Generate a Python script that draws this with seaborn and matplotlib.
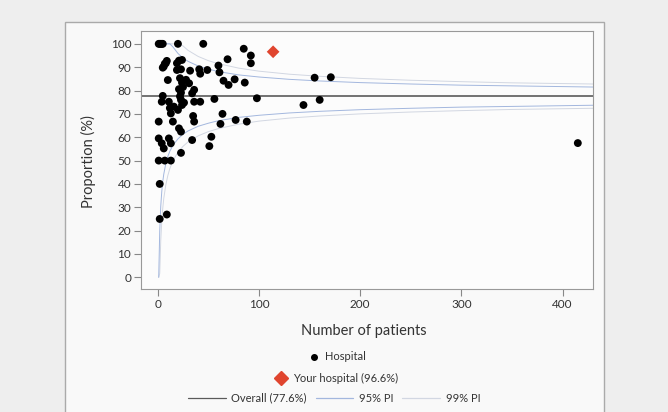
import seaborn as sns
import numpy as np
import matplotlib.pyplot as plt
import matplotlib.patches as mpatches
from matplotlib.lines import Line2D

# hospital results: (patients, proportion %)
hosp_n = [1, 2, 3, 4, 5, 20, 45,
          85, 92, 92, 69, 60, 61, 49, 41, 42, 32, 23, 8, 6, 19, 21, 24,
          5, 7, 9, 10, 22, 24, 31, 21, 23, 34, 65, 70, 76, 86, 98, 56,
          5, 4, 11, 16, 12, 23, 24, 36, 42, 20, 13, 35, 36, 64, 62, 77, 88,
          1, 15, 21, 23, 1, 11, 4, 13, 6, 34, 53, 51, 23,
          1, 7, 13, 2, 2, 9,
          25, 22, 26, 28, 36, 19,
          144, 155, 160, 171, 415]
hosp_pct = [100, 100, 100, 100, 100, 100, 100,
            97.9, 95.0, 91.7, 93.4, 90.7, 87.8, 88.8, 89.1, 87.2, 88.5, 89.1, 91.7, 90.3, 91.7, 92.8, 93.1,
            89.8, 91.5, 92.7, 84.5, 85.3, 83.4, 83.1, 80.6, 79.1, 78.8, 84.2, 82.4, 84.8, 83.4, 76.7, 76.4,
            77.7, 75.2, 75.2, 73.1, 72.5, 76.0, 73.8, 75.2, 75.2, 71.7, 70.2, 69.1, 66.7, 70.0, 65.7, 67.4, 66.7,
            66.7, 66.7, 63.8, 62.4, 59.5, 59.5, 57.4, 57.4, 55.2, 58.8, 60.2, 56.2, 53.3,
            50, 50, 50, 40, 25, 26.9,
            81.5, 77.5, 74.8, 84.6, 80.3, 88.8,
            73.8, 85.5, 76.0, 85.7, 57.5]

your_n = 114
your_pct = 96.6
overall_pct = 77.6

# prediction limits read along the funnel
pi_n = [1, 2, 3, 4, 5, 6, 8, 10, 12, 15, 20, 25, 30, 40, 50, 60, 80, 100,
        130, 160, 200, 250, 300, 350, 430]
upper95 = [100, 100, 100, 100, 100, 100, 100, 100, 100, 98.7, 95.9, 93.9, 92.5, 90.5, 89.2, 88.1,
           86.7, 85.8, 84.8, 84.1, 83.4, 82.8, 82.3, 82.0, 81.5]
lower95 = [0, 19.8, 30.4, 36.7, 41.1, 44.2, 48.7, 51.8, 54.0, 56.5, 59.3, 61.3, 62.7, 64.7, 66.0,
           67.1, 68.5, 69.4, 70.4, 71.1, 71.8, 72.4, 72.9, 73.2, 73.7]
upper99 = [100, 100, 100, 100, 100, 100, 100, 100, 100, 100, 100, 99.1, 97.2, 94.6, 92.8, 91.5,
           89.6, 88.3, 87.0, 86.1, 85.2, 84.4, 83.8, 83.3, 82.8]
lower99 = [0, 1.7, 15.6, 23.9, 29.6, 33.8, 39.6, 43.6, 46.6, 49.9, 53.6, 56.1, 58.0, 60.6, 62.4,
           63.7, 65.6, 66.9, 68.2, 69.1, 70.0, 70.8, 71.4, 71.9, 72.4]

sns.set_style("white")
plt.rcParams['font.family'] = ['Lato', 'DejaVu Sans']

c95 = '#a3b7de'
c99 = '#d2d7e2'
cover = '#5a5a5a'
txt = '#333333'

fig = plt.figure(figsize=(6.68, 4.12), dpi=100, facecolor='#eeeeee')
# the printed page frame
fig.patches.append(mpatches.Rectangle((65 / 668, -0.05), (604 - 65) / 668, 1.05 - 22 / 412,
                                      transform=fig.transFigure, facecolor='#f9f9f9',
                                      edgecolor='#aaaaaa', lw=1.0, zorder=-5))

ax = fig.add_axes([141 / 668, 1 - 289 / 412, (593 - 141) / 668, (289 - 31) / 412])
ax.set_zorder(2)
ax.set_facecolor('#fcfcfc')

sns.lineplot(x=pi_n, y=upper99, color=c99, lw=0.7, ax=ax, legend=False)
sns.lineplot(x=pi_n, y=lower99, color=c99, lw=0.7, ax=ax, legend=False)
sns.lineplot(x=pi_n, y=upper95, color=c95, lw=0.7, ax=ax, legend=False)
sns.lineplot(x=pi_n, y=lower95, color=c95, lw=0.7, ax=ax, legend=False)
ax.axhline(overall_pct, color=cover, lw=1.2, zorder=2)

sns.scatterplot(x=hosp_n, y=hosp_pct, color='black', s=32, edgecolor='none', ax=ax,
                legend=False, zorder=3)
sns.scatterplot(x=[your_n], y=[your_pct], marker='D', color='#e0452f', s=42,
                edgecolor='none', ax=ax, legend=False, zorder=4)

ax.set_xlim(-16.5, 430)
ax.set_ylim(-5, 105.5)
ax.set_xticks([0, 100, 200, 300, 400])
ax.set_yticks(np.arange(0, 101, 10))
ax.tick_params(axis='both', direction='out', length=5, width=0.8, color='#888888',
               labelsize=8.5, labelcolor=txt, pad=2, bottom=True, left=True)
for sp in ax.spines.values():
    sp.set_color('#999999')
    sp.set_linewidth(0.8)
ax.set_xlabel('')
ax.set_ylabel('')

fig.text(88 / 668, 1 - 162 / 412, 'Proportion (%)', rotation=90, ha='center', va='center',
         fontsize=10.5, color=txt)
fig.text(364 / 668, 1 - 331 / 412, 'Number of patients', ha='center', va='center',
         fontsize=10.5, color=txt)

# legend rows
h1 = [Line2D([], [], ls='none', marker='o', color='black', markersize=4)]
h2 = [Line2D([], [], ls='none', marker='D', color='#e0452f', markersize=7)]
h3 = [Line2D([], [], color=cover, lw=0.9),
      Line2D([], [], color=c95, lw=0.9),
      Line2D([], [], color=c99, lw=0.9)]
common = dict(frameon=False, fontsize=8, labelcolor=txt, borderpad=0, handletextpad=0.5)
leg1 = fig.legend(h1, ['Hospital'], loc='center', bbox_to_anchor=(337 / 668, 1 - 357 / 412),
                  handlelength=1.0, **common)
leg2 = fig.legend(h2, ['Your hospital (96.6%)'], loc='center',
                  bbox_to_anchor=(336 / 668, 1 - 378 / 412), handlelength=1.2, **common)
leg3 = fig.legend(h3, ['Overall (77.6%)', '95% PI', '99% PI'], loc='center', ncol=3,
                  bbox_to_anchor=(334 / 668, 1 - 398 / 412), handlelength=3.4,
                  columnspacing=0.8, **common)

fig.savefig('out.png', dpi=100, facecolor=fig.get_facecolor())
